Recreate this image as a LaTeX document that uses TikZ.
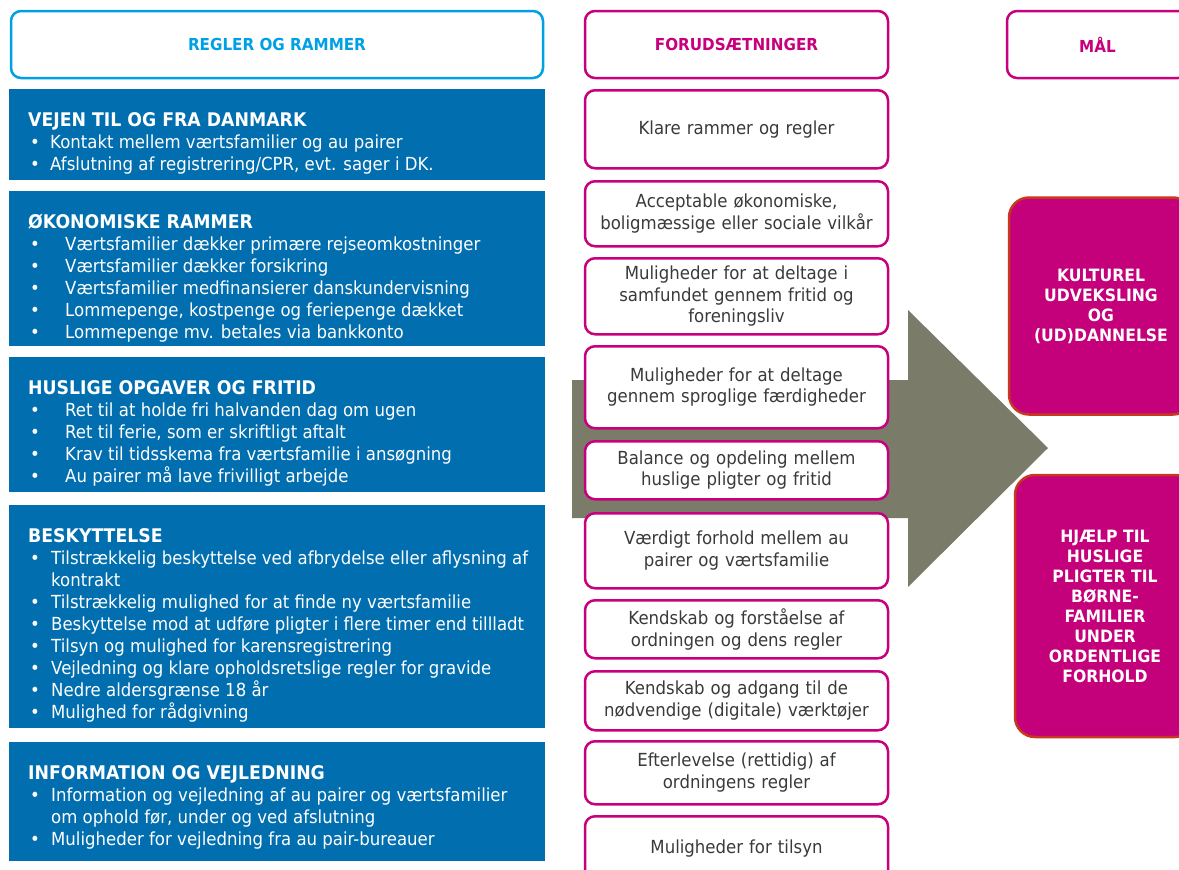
\documentclass[tikz,border=0pt]{standalone}
\usepackage{fontspec}
\setmainfont{DejaVu Sans}[FakeStretch=0.92]
\setlength{\parindent}{0pt}
\definecolor{rammeblaa}{HTML}{006EAF}
\definecolor{kantblaa}{HTML}{00A0E6}
\definecolor{rosa}{HTML}{C8007D}
\definecolor{maalrosa}{HTML}{C4007A}
\definecolor{kantroed}{HTML}{C8381E}
\definecolor{pilgraa}{HTML}{7B7B69}
\definecolor{tekstgraa}{HTML}{3A3A3A}
\newcommand{\pkt}[2][22pt]{\par\noindent\hangindent=#1\hangafter=1\makebox[#1][l]{\hspace{2pt}\textbullet}#2}
\newcommand{\titel}[1]{\rule{0pt}{37pt}{\fontsize{18.8}{22}\selectfont\textbf{#1}}}
\newcommand{\regeltekst}[2]{\parbox[c][#1][t]{498pt}{\raggedright #2}}

\begin{document}
\begin{tikzpicture}[x=1pt, y=-1pt,
  hoved/.style={fill=white, line width=2.5pt, rounded corners=10pt, minimum height=67pt, font=\bfseries\fontsize{16.5}{20}\selectfont},
  regel/.style={fill=rammeblaa, text=white, anchor=north west, inner xsep=19pt, inner ysep=0pt, font=\fontsize{18}{22}\selectfont},
  forud/.style={draw=rosa, fill=white, line width=2.5pt, rounded corners=10pt, anchor=north, minimum width=303pt, text width=292pt, align=center, text=tekstgraa, font=\fontsize{18}{21.5}\selectfont},
  maal/.style={fill=maalrosa, draw=kantroed, line width=2.5pt, rounded corners=20pt, text=white, align=center, font=\bfseries\fontsize{17}{20}\selectfont}]
  \useasboundingbox (0,0) rectangle (1179,870);
  \clip (0,0) rectangle (1179,870);
  \fill[pilgraa] (572,380) -- (908,380) -- (908,310) -- (1048,448) -- (908,587) -- (908,518) -- (572,518) -- cycle;

  \node[hoved, draw=kantblaa, text=kantblaa, minimum width=532pt] (regler) at (277,44.5) {REGLER OG RAMMER};
  \node[hoved, draw=rosa, text=rosa, minimum width=303pt] (forudsaet) at (736.5,44.5) {FORUDSÆTNINGER};
  \node[hoved, draw=rosa, text=rosa, minimum width=181pt] (maalhoved) at (1097.5,44.5) {MÅL};

  \node[regel] (vejen) at (9,89) {\regeltekst{91pt}{\titel{VEJEN TIL OG FRA DANMARK}
    \pkt{Kontakt mellem værtsfamilier og au pairer}
    \pkt{Afslutning af registrering/CPR, evt. sager i DK.}}};
  \node[regel] (oekonomi) at (9,191) {\regeltekst{155pt}{\titel{ØKONOMISKE RAMMER}
    \pkt[37pt]{Værtsfamilier dækker primære rejseomkostninger}
    \pkt[37pt]{Værtsfamilier dækker forsikring}
    \pkt[37pt]{Værtsfamilier medfinansierer danskundervisning}
    \pkt[37pt]{Lommepenge, kostpenge og feriepenge dækket}
    \pkt[37pt]{Lommepenge mv. betales via bankkonto}}};
  \node[regel] (huslig) at (9,357) {\regeltekst{135pt}{\titel{HUSLIGE OPGAVER OG FRITID}
    \pkt[37pt]{Ret til at holde fri halvanden dag om ugen}
    \pkt[37pt]{Ret til ferie, som er skriftligt aftalt}
    \pkt[37pt]{Krav til tidsskema fra værtsfamilie i ansøgning}
    \pkt[37pt]{Au pairer må lave frivilligt arbejde}}};
  \node[regel] (beskyt) at (9,505) {\regeltekst{223pt}{\titel{BESKYTTELSE}
    \pkt[23pt]{\mbox{Tilstrækkelig beskyttelse ved afbrydelse eller aflysning af}\newline kontrakt}
    \pkt[23pt]{Tilstrækkelig mulighed for at finde ny værtsfamilie}
    \pkt[23pt]{\mbox{Beskyttelse mod at udføre pligter i flere timer end tillladt}}
    \pkt[23pt]{Tilsyn og mulighed for karensregistrering}
    \pkt[23pt]{Vejledning og klare opholdsretslige regler for gravide}
    \pkt[23pt]{Nedre aldersgrænse 18 år}
    \pkt[23pt]{Mulighed for rådgivning}}};
  \node[regel] (info) at (9,742) {\regeltekst{119pt}{\titel{INFORMATION OG VEJLEDNING}
    \pkt[23pt]{\mbox{Information og vejledning af au pairer og værtsfamilier}\newline om ophold før, under og ved afslutning}
    \pkt[23pt]{Muligheder for vejledning fra au pair-bureauer}}};

  \node[forud, minimum height=78pt] (klare) at (736.5,89) {Klare rammer og regler};
  \node[forud, minimum height=65pt] (vilkaar) at (736.5,180) {Acceptable økonomiske,\\ boligmæssige eller sociale vilkår};
  \node[forud, minimum height=76pt] (samfund) at (736.5,257) {Muligheder for at deltage i\\ samfundet gennem fritid og\\ foreningsliv};
  \node[forud, minimum height=82pt] (sprog) at (736.5,345) {Muligheder for at deltage\\ gennem sproglige færdigheder};
  \node[forud, minimum height=58pt] (balance) at (736.5,440) {Balance og opdeling mellem\\ huslige pligter og fritid};
  \node[forud, minimum height=75pt] (forhold) at (736.5,512) {Værdigt forhold mellem au\\ pairer og værtsfamilie};
  \node[forud, minimum height=58pt] (forstaa) at (736.5,599) {Kendskab og forståelse af\\ ordningen og dens regler};
  \node[forud, minimum height=59pt] (adgang) at (736.5,670) {Kendskab og adgang til de\\ nødvendige (digitale) værktøjer};
  \node[forud, minimum height=63pt] (efterlev) at (736.5,740) {Efterlevelse (rettidig) af\\ ordningens regler};
  \node[forud, minimum height=65pt] (tilsyn) at (736.5,815) {Muligheder for tilsyn};

  \node[maal, minimum width=184pt, minimum height=217pt] (kultur) at (1101,306) {KULTUREL\\ UDVEKSLING\\ OG\\ (UD)DANNELSE};
  \node[maal, minimum width=180pt, minimum height=262pt] (hjaelp) at (1105,606) {HJÆLP TIL\\ HUSLIGE\\ PLIGTER TIL\\ BØRNE-\\ FAMILIER\\ UNDER\\ ORDENTLIGE\\ FORHOLD};
\end{tikzpicture}
\end{document}
